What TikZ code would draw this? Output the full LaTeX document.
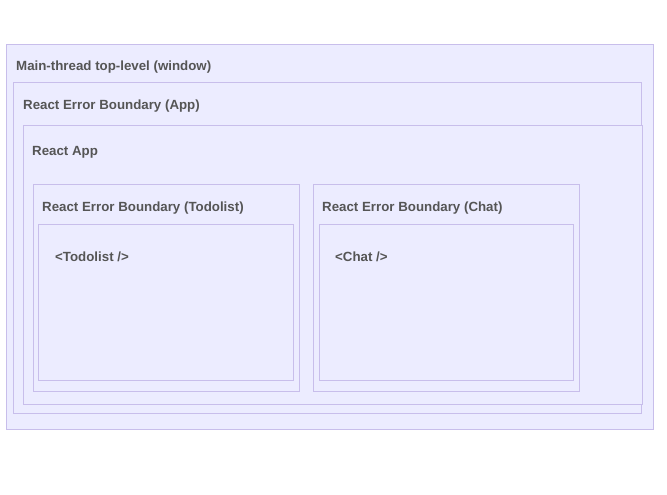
\documentclass[tikz,border=0pt]{standalone}
\usepackage{fontspec}
\setmainfont{Liberation Sans}
\usepackage{xcolor}
\definecolor{boxfill}{HTML}{ECECFF}
\definecolor{boxline}{HTML}{C8BEEB}
\definecolor{labeltext}{HTML}{555555}

\begin{document}
\begin{tikzpicture}[x=1pt, y=-1pt,
    box/.style={draw=boxline, fill=boxfill, line width=1pt},
    title/.style={anchor=west, inner sep=0pt, text=labeltext, font=\fontsize{13.3}{15}\selectfont\bfseries}]
  \useasboundingbox (0,0) rectangle (667,495);

  % nested boxes, outermost first
  \draw[box] (6.5,44.5) rectangle (653.5,429.5);
  \draw[box] (13.5,82.5) rectangle (641.5,413.5);
  \draw[box] (23.5,125.5) rectangle (642.5,404.5);
  \draw[box] (33.5,184.5) rectangle (299.5,391);
  \draw[box] (38.5,224.5) rectangle (293.5,380.5);
  \draw[box] (313.5,184.5) rectangle (579.5,391);
  \draw[box] (319.5,224.5) rectangle (573.5,380.5);

  % box titles
  \node[title] (window) at (16,67.5) {Main-thread top-level (window)};
  \node[title] (appboundary) at (23,106.5) {React Error Boundary (App)};
  \node[title] (app) at (32,152) {React App};
  \node[title] (todoboundary) at (42,208.5) {React Error Boundary (Todolist)};
  \node[title] (todolist) at (55,256.5) {<Todolist />};
  \node[title] (chatboundary) at (322,208.5) {React Error Boundary (Chat)};
  \node[title] (chat) at (335,256.5) {<Chat />};
\end{tikzpicture}
\end{document}
